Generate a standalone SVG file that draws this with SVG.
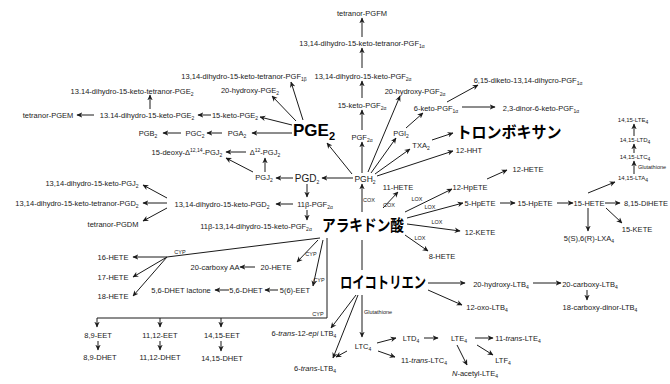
<svg xmlns="http://www.w3.org/2000/svg" width="670" height="384" viewBox="0 0 670 384">
<style>
text{font-family:"Liberation Sans",Arial,sans-serif;font-size:7.5px;fill:#1a1a1a;text-anchor:middle}
.sb{font-size:5px}
.sm{font-size:5.5px}
.tn{font-size:6px}
.jp{font-family:"Noto Sans CJK JP",sans-serif;font-weight:700;font-size:16px;fill:#000}
.big{font-size:17px;font-weight:700;fill:#000}
.md{font-size:10px}
.it{font-style:italic}
.c line,.c path{stroke:#1a1a1a;stroke-width:1;fill:none}
.c .a{marker-end:url(#ah)}
</style>
<defs>
<marker id="ah" viewBox="0 0 10 10" refX="9" refY="5" markerWidth="6" markerHeight="6" orient="auto" markerUnits="userSpaceOnUse">
<path d="M0,0.5 L10,5 L0,9.5 L3,5z" fill="#1a1a1a"/>
</marker>
</defs>
<rect width="670" height="384" fill="#fff"/>

<g class="c" id="connectors">
<line class="a" x1="362" y1="37" x2="362" y2="18"/>
<line class="a" x1="362" y1="68" x2="362" y2="48"/>
<line class="a" x1="362" y1="98" x2="362" y2="81"/>
<line class="a" x1="362" y1="130" x2="362" y2="110"/>
<line class="a" x1="362" y1="173" x2="362" y2="142"/>
<line class="a" x1="368" y1="172" x2="400" y2="96"/>
<line class="a" x1="371" y1="173" x2="396" y2="138"/>
<line class="a" x1="406" y1="128" x2="423" y2="113"/>
<line class="a" x1="447" y1="102" x2="478" y2="85"/>
<line class="a" x1="462" y1="107" x2="495" y2="107"/>
<line class="a" x1="375" y1="174" x2="410" y2="149"/>
<line class="a" x1="432" y1="140" x2="453" y2="133"/>
<line class="a" x1="377" y1="176" x2="453" y2="151"/>
<line class="a" x1="352" y1="174" x2="327" y2="143"/>
<line class="a" x1="303" y1="120" x2="291" y2="82"/>
<line class="a" x1="296" y1="121" x2="272" y2="96"/>
<line class="a" x1="292" y1="125" x2="260" y2="117"/>
<line class="a" x1="292" y1="133" x2="252" y2="133"/>
<line class="a" x1="211" y1="115" x2="198" y2="115"/>
<line class="a" x1="150" y1="109" x2="150" y2="95"/>
<line class="a" x1="94" y1="115" x2="77" y2="115"/>
<line class="a" x1="222" y1="133" x2="207" y2="133"/>
<line class="a" x1="181" y1="133" x2="163" y2="133"/>
<line class="a" x1="353" y1="178" x2="322" y2="178"/>
<line class="a" x1="293" y1="178" x2="276" y2="178"/>
<line class="a" x1="265" y1="172" x2="265" y2="158"/>
<line class="a" x1="253" y1="172" x2="226" y2="158"/>
<line class="a" x1="246" y1="152" x2="226" y2="152"/>
<line class="a" x1="307" y1="184" x2="307" y2="197"/>
<line class="a" x1="293" y1="204" x2="276" y2="204"/>
<line class="a" x1="307" y1="210" x2="307" y2="220"/>
<line class="a" x1="167" y1="198" x2="143" y2="185"/>
<line class="a" x1="167" y1="203" x2="143" y2="203"/>
<line class="a" x1="167" y1="208" x2="143" y2="221"/>
<line class="a" x1="362" y1="212" x2="362" y2="184"/>
<line class="a" x1="383" y1="208" x2="398" y2="192"/>
<line class="a" x1="405" y1="212" x2="452" y2="189"/>
<line class="a" x1="407" y1="218" x2="463" y2="203"/>
<line class="a" x1="407" y1="224" x2="460" y2="231"/>
<line class="a" x1="405" y1="235" x2="428" y2="251"/>
<line class="a" x1="487" y1="179" x2="507" y2="170"/>
<line class="a" x1="500" y1="203" x2="515" y2="203"/>
<line class="a" x1="557" y1="203" x2="573" y2="203"/>
<line class="a" x1="605" y1="203" x2="620" y2="203"/>
<line class="a" x1="588" y1="208" x2="588" y2="231"/>
<line class="a" x1="606" y1="208" x2="622" y2="223"/>
<line class="a" x1="588" y1="193" x2="615" y2="182"/>
<line class="a" x1="634" y1="174" x2="634" y2="161"/>
<line class="a" x1="634" y1="153" x2="634" y2="144"/>
<line class="a" x1="634" y1="136" x2="634" y2="124"/>
<line x1="320" y1="238" x2="167" y2="257"/>
<line class="a" x1="167" y1="257" x2="133" y2="257"/>
<line class="a" x1="167" y1="257" x2="133" y2="277"/>
<line class="a" x1="167" y1="257" x2="133" y2="296"/>
<line class="a" x1="255" y1="267" x2="240" y2="267"/>
<line class="a" x1="318" y1="240" x2="297" y2="262"/>
<line class="a" x1="323" y1="240" x2="313" y2="286"/>
<line class="a" x1="278" y1="290" x2="265" y2="290"/>
<line class="a" x1="229" y1="290" x2="215" y2="290"/>
<path d="M327,238 L327,318 L97,318"/>
<line class="a" x1="97" y1="318" x2="97" y2="327"/>
<line class="a" x1="160" y1="318" x2="160" y2="327"/>
<line class="a" x1="221" y1="318" x2="221" y2="327"/>
<line class="a" x1="98" y1="341" x2="98" y2="350"/>
<line class="a" x1="160" y1="341" x2="160" y2="350"/>
<line class="a" x1="221" y1="341" x2="221" y2="351"/>
<line x1="362" y1="240" x2="362" y2="270"/>
<line class="a" x1="428" y1="283" x2="465" y2="283"/>
<line class="a" x1="428" y1="290" x2="462" y2="305"/>
<line class="a" x1="533" y1="283" x2="561" y2="283"/>
<line class="a" x1="587" y1="290" x2="587" y2="300"/>
<line class="a" x1="362" y1="295" x2="362" y2="337"/>
<line class="a" x1="356" y1="295" x2="331" y2="328"/>
<line class="a" x1="358" y1="295" x2="333" y2="358"/>
<line class="a" x1="347" y1="351" x2="336" y2="357"/>
<line class="a" x1="377" y1="343" x2="396" y2="338"/>
<line class="a" x1="378" y1="351" x2="395" y2="357"/>
<line class="a" x1="424" y1="338" x2="438" y2="338"/>
<line class="a" x1="475" y1="338" x2="493" y2="338"/>
<line class="a" x1="477" y1="345" x2="493" y2="355"/>
<line class="a" x1="457" y1="345" x2="467" y2="365"/>
</g>

<g id="edge-labels">
<text class="sm" x="369" y="202">COX</text>
<text class="sm" x="389" y="207">COX</text>
<text class="sm" x="417" y="201">LOX</text>
<text class="sm" x="430" y="209">LOX</text>
<text class="sm" x="437" y="224">LOX</text>
<text class="sm" x="420" y="240">LOX</text>
<text class="sm" x="180" y="254">CYP</text>
<text class="sm" x="311" y="256">CYP</text>
<text class="sm" x="319" y="282">CYP</text>
<text class="sm" x="318" y="316">CYP</text>
<text class="sm" x="378" y="314">Glutathione</text>
<text class="sm" x="652" y="169">Glutathione</text>
</g>

<g id="n-tetranor-pgfm"><text x="362" y="15.5">tetranor-PGFM</text></g>
<g id="n-tetranor-pgf1a"><text x="362" y="45.5">13,14-dihydro-15-keto-tetranor-PGF<tspan class="sb" dy="2">1α</tspan></text></g>
<g id="n-dk-pgf2a"><text x="363" y="78.5">13,14-dihydro-15-keto-PGF<tspan class="sb" dy="2">2α</tspan></text></g>
<g id="n-15k-pgf2a"><text x="362" y="107.5">15-keto-PGF<tspan class="sb" dy="2">2α</tspan></text></g>
<g id="n-pgf2a"><text x="362" y="139.5">PGF<tspan class="sb" dy="2">2α</tspan></text></g>
<g id="n-20oh-pgf2a"><text x="415" y="93.5">20-hydroxy-PGF<tspan class="sb" dy="2">2α</tspan></text></g>
<g id="n-6k-pgf1a"><text x="436" y="110.5">6-keto-PGF<tspan class="sb" dy="2">1α</tspan></text></g>
<g id="n-diketo"><text x="528" y="82.5">6,15-diketo-13,14-dihycro-PGF<tspan class="sb" dy="2">1α</tspan></text></g>
<g id="n-dinor"><text x="541" y="110.5">2,3-dinor-6-keto-PGF<tspan class="sb" dy="2">1α</tspan></text></g>
<g id="n-pgi2"><text x="401" y="135.5">PGI<tspan class="sb" dy="2">2</tspan></text></g>
<g id="n-txa2"><text x="421" y="147.5">TXA<tspan class="sb" dy="2">2</tspan></text></g>
<g id="n-thromboxane"><text class="jp" x="509" y="138" textLength="105" lengthAdjust="spacingAndGlyphs">トロンボキサン</text></g>
<g id="n-12hht"><text x="469" y="152.5">12-HHT</text></g>
<g id="n-pgh2"><text x="365" y="181.5" style="font-size:8.5px">PGH<tspan class="sb" dy="2">2</tspan></text></g>
<g id="n-pge2"><text class="big" x="314" y="136">PGE<tspan dy="4" style="font-size:11px">2</tspan></text></g>
<g id="n-tetranor-pgf1b"><text x="244" y="78.5">13,14-dihydro-15-keto-tetranor-PGF<tspan class="sb" dy="2">1β</tspan></text></g>
<g id="n-20oh-pge2"><text x="250" y="92.5">20-hydroxy-PGE<tspan class="sb" dy="2">2</tspan></text></g>
<g id="n-15k-pge2"><text x="235" y="117.5">15-keto-PGE<tspan class="sb" dy="2">2</tspan></text></g>
<g id="n-dk-pge2"><text x="147" y="117.5">13.14-dihydro-15-keto-PGE<tspan class="sb" dy="2">2</tspan></text></g>
<g id="n-tetranor-pge2"><text x="132" y="93.5">13.14-dihydro-15-keto-tetranor-PGE<tspan class="sb" dy="2">2</tspan></text></g>
<g id="n-pgem"><text x="48" y="117.5">tetranor-PGEM</text></g>
<g id="n-pga2"><text x="237" y="135.5">PGA<tspan class="sb" dy="2">2</tspan></text></g>
<g id="n-pgc2"><text x="195" y="135.5">PGC<tspan class="sb" dy="2">2</tspan></text></g>
<g id="n-pgb2"><text x="148" y="135.5">PGB<tspan class="sb" dy="2">2</tspan></text></g>
<g id="n-d12-pgj2"><text x="265" y="154.5">Δ<tspan class="sb" dy="-3">12</tspan><tspan dy="3">-PGJ</tspan><tspan class="sb" dy="2">2</tspan></text></g>
<g id="n-15d-pgj2"><text x="187" y="154.5">15-deoxy-Δ<tspan class="sb" dy="-3">12,14</tspan><tspan dy="3">-PGJ</tspan><tspan class="sb" dy="2">2</tspan></text></g>
<g id="n-pgj2"><text x="264" y="180">PGJ<tspan class="sb" dy="2">2</tspan></text></g>
<g id="n-pgd2"><text class="md" x="307" y="181.5">PGD<tspan class="sb" dy="2">2</tspan></text></g>
<g id="n-11b-pgf2a"><text x="315" y="206.5">11β-PGF<tspan class="sb" dy="2">2α</tspan></text></g>
<g id="n-dk-pgd2"><text x="222" y="206.5">13,14-dihydro-15-keto-PGD<tspan class="sb" dy="2">2</tspan></text></g>
<g id="n-11b-dk-pgf2a"><text x="256" y="228.5">11β-13,14-dihydro-15-keto-PGF<tspan class="sb" dy="2">2α</tspan></text></g>
<g id="n-dk-pgj2"><text x="92" y="185.5">13,14-dihydro-15-keto-PGJ<tspan class="sb" dy="2">2</tspan></text></g>
<g id="n-tetranor-pgd2"><text x="77" y="205.5">13,14-dihydro-15-keto-tetranor-PGD<tspan class="sb" dy="2">2</tspan></text></g>
<g id="n-pgdm"><text x="113" y="226.5">tetranor-PGDM</text></g>
<g id="n-aa"><text class="jp" x="363" y="231" textLength="82" lengthAdjust="spacingAndGlyphs">アラキドン酸</text></g>
<g id="n-11hete"><text x="398" y="189.5">11-HETE</text></g>
<g id="n-12hpete"><text x="470" y="189.5">12-HpETE</text></g>
<g id="n-12hete"><text x="528" y="171.5">12-HETE</text></g>
<g id="n-5hpete"><text x="480" y="205.5">5-HpETE</text></g>
<g id="n-15hpete"><text x="535" y="205.5">15-HpETE</text></g>
<g id="n-15hete"><text x="589" y="205.5">15-HETE</text></g>
<g id="n-815dihete"><text x="646" y="205.5">8,15-DiHETE</text></g>
<g id="n-12kete"><text x="480" y="234.5">12-KETE</text></g>
<g id="n-15kete"><text x="637" y="231.5">15-KETE</text></g>
<g id="n-lxa4"><text x="589" y="240.5">5(S),6(R)-LXA<tspan class="sb" dy="2">4</tspan></text></g>
<g id="n-1415lta4"><text class="tn" x="633" y="180">14,15-LTA<tspan class="sb" dy="1.5">4</tspan></text></g>
<g id="n-1415ltc4"><text class="tn" x="635" y="159">14,15-LTC<tspan class="sb" dy="1.5">4</tspan></text></g>
<g id="n-1415ltd4"><text class="tn" x="635" y="142">14,15-LTD<tspan class="sb" dy="1.5">4</tspan></text></g>
<g id="n-1415lte4"><text class="tn" x="633" y="122">14,15-LTE<tspan class="sb" dy="1.5">4</tspan></text></g>
<g id="n-8hete"><text x="442" y="258.5">8-HETE</text></g>
<g id="n-16hete"><text x="113" y="259.5">16-HETE</text></g>
<g id="n-17hete"><text x="113" y="279.5">17-HETE</text></g>
<g id="n-18hete"><text x="113" y="298.5">18-HETE</text></g>
<g id="n-20caa"><text x="215" y="269.5">20-carboxy AA</text></g>
<g id="n-20hete"><text x="276" y="269.5">20-HETE</text></g>
<g id="n-56lac"><text x="181" y="292.5">5,6-DHET lactone</text></g>
<g id="n-56dhet"><text x="246" y="292.5">5,6-DHET</text></g>
<g id="n-56eet"><text x="295" y="292.5">5(6)-EET</text></g>
<g id="n-89eet"><text x="98" y="337.5">8,9-EET</text></g>
<g id="n-89dhet"><text x="100" y="359.5">8,9-DHET</text></g>
<g id="n-1112eet"><text x="160" y="337.5">11,12-EET</text></g>
<g id="n-1112dhet"><text x="160" y="359.5">11,12-DHET</text></g>
<g id="n-1415eet"><text x="222" y="337.5">14,15-EET</text></g>
<g id="n-1415dhet"><text x="222" y="360.5">14,15-DHET</text></g>
<g id="n-lt"><text class="jp" x="383" y="288" textLength="86" lengthAdjust="spacingAndGlyphs">ロイコトリエン</text></g>
<g id="n-20oh-ltb4"><text x="501" y="286.5">20-hydroxy-LTB<tspan class="sb" dy="2">4</tspan></text></g>
<g id="n-20c-ltb4"><text x="590" y="286.5">20-carboxy-LTB<tspan class="sb" dy="2">4</tspan></text></g>
<g id="n-18c-ltb4"><text x="600" y="309.5">18-carboxy-dinor-LTB<tspan class="sb" dy="2">4</tspan></text></g>
<g id="n-12oxo-ltb4"><text x="487" y="309.5">12-oxo-LTB<tspan class="sb" dy="2">4</tspan></text></g>
<g id="n-6t12e-ltb4"><text x="304" y="335.5">6-<tspan class="it">trans</tspan>-12-<tspan class="it">epi</tspan> LTB<tspan class="sb" dy="2">4</tspan></text></g>
<g id="n-6t-ltb4"><text x="315" y="370.5">6-<tspan class="it">trans</tspan>-LTB<tspan class="sb" dy="2">4</tspan></text></g>
<g id="n-ltc4"><text x="363" y="348.5">LTC<tspan class="sb" dy="2">4</tspan></text></g>
<g id="n-ltd4"><text x="411" y="340.5">LTD<tspan class="sb" dy="2">4</tspan></text></g>
<g id="n-lte4"><text x="459" y="340.5">LTE<tspan class="sb" dy="2">4</tspan></text></g>
<g id="n-11t-lte4"><text x="518" y="340.5">11-<tspan class="it">trans</tspan>-LTE<tspan class="sb" dy="2">4</tspan></text></g>
<g id="n-ltf4"><text x="503" y="362.5">LTF<tspan class="sb" dy="2">4</tspan></text></g>
<g id="n-nac-lte4"><text x="475" y="375.5"><tspan class="it">N</tspan>-acetyl-LTE<tspan class="sb" dy="2">4</tspan></text></g>
<g id="n-11t-ltc4"><text x="424" y="362.5">11-<tspan class="it">trans</tspan>-LTC<tspan class="sb" dy="2">4</tspan></text></g>
</svg>
